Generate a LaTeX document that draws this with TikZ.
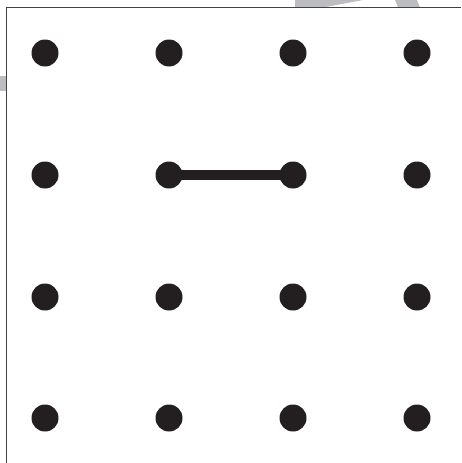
\documentclass[tikz,border=0pt]{standalone}
\usepackage{tikz}
\usepackage{xcolor}
\definecolor{inkblack}{HTML}{231F20}
\definecolor{markgray}{HTML}{BCBDC0}

\begin{document}
\begin{tikzpicture}[x=1pt, y=-1pt,
  pegdot/.style={circle, fill=inkblack, inner sep=0pt, minimum size=27pt},
  band/.style={inkblack, line width=10pt, shorten <=-4pt, shorten >=-4pt}]
  \useasboundingbox (0,0) rectangle (461,463);
  %% Faint marks peeking out behind the board
  \fill[markgray] (295,0) -- (363,0) -- (323,7.5) -- (295,7.5) -- cycle;
  \fill[markgray] (395,0) -- (417,0) -- (420,7.5) -- (398,7.5) -- cycle;
  \fill[markgray] (0,76) rectangle (6.5,91);
  %% Board
  \fill[white] (6.5,7.5) rectangle (461,463);
  \draw[inkblack!85, line width=1.5pt] (6.5,463) -- (6.5,7.5) -- (461,7.5);
  %% Pegs
  \foreach \i/\x in {1/45,2/169,3/293,4/417}
    \foreach \j/\y in {1/53,2/175,3/297,4/418}
      \node[pegdot] (d\i\j) at (\x,\y) {};
  %% Rubber band
  \draw[band] (d22) -- (d32);
\end{tikzpicture}
\end{document}
